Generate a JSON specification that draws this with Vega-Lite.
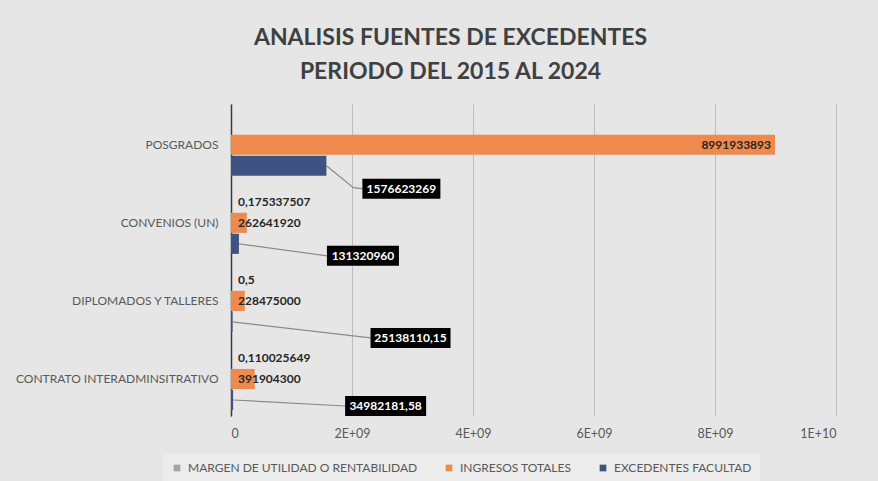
{
  "$schema": "https://vega.github.io/schema/vega-lite/v6.json",
  "width": 605,
  "height": 312,
  "autosize": {"type": "none"},
  "padding": {"left": 231, "top": 104, "right": 42, "bottom": 65},
  "background": "#e6e6e6",
  "config": {
    "font": "Lato",
    "view": {"stroke": null},
    "locale": {"number": {"decimal": ",", "thousands": ".", "grouping": [3], "currency": ["$", ""]}}
  },
  "title": {
    "text": ["ANALISIS FUENTES DE EXCEDENTES", "PERIODO DEL 2015 AL 2024"],
    "font": "Lato",
    "fontSize": 23,
    "fontWeight": "bold",
    "color": "#404040",
    "anchor": "middle",
    "dx": -83,
    "offset": 20,
    "lineHeight": 34
  },
  "data": {
    "values": [
      {"cat": "POSGRADOS", "serie": "INGRESOS TOTALES", "value": 8991933893},
      {"cat": "POSGRADOS", "serie": "EXCEDENTES FACULTAD", "value": 1576623269},
      {"cat": "CONVENIOS (UN)", "serie": "MARGEN DE UTILIDAD O RENTABILIDAD", "value": 0.175337507},
      {"cat": "CONVENIOS (UN)", "serie": "INGRESOS TOTALES", "value": 262641920},
      {"cat": "CONVENIOS (UN)", "serie": "EXCEDENTES FACULTAD", "value": 131320960},
      {"cat": "DIPLOMADOS Y TALLERES", "serie": "MARGEN DE UTILIDAD O RENTABILIDAD", "value": 0.5},
      {"cat": "DIPLOMADOS Y TALLERES", "serie": "INGRESOS TOTALES", "value": 228475000},
      {"cat": "DIPLOMADOS Y TALLERES", "serie": "EXCEDENTES FACULTAD", "value": 25138110.15},
      {"cat": "CONTRATO INTERADMINSITRATIVO", "serie": "MARGEN DE UTILIDAD O RENTABILIDAD", "value": 0.110025649},
      {"cat": "CONTRATO INTERADMINSITRATIVO", "serie": "INGRESOS TOTALES", "value": 391904300},
      {"cat": "CONTRATO INTERADMINSITRATIVO", "serie": "EXCEDENTES FACULTAD", "value": 34982181.58}
    ]
  },
  "encoding": {
    "y": {
      "field": "cat",
      "type": "nominal",
      "sort": ["POSGRADOS", "CONVENIOS (UN)", "DIPLOMADOS Y TALLERES", "CONTRATO INTERADMINSITRATIVO"],
      "scale": {"paddingInner": 0.205, "paddingOuter": 0.1, "align": 0.62},
      "axis": {
        "title": null,
        "labelFont": "Lato",
        "labelFontSize": 12,
        "labelColor": "#595959",
        "labelPadding": 13,
        "labelLimit": 300,
        "ticks": false,
        "grid": false,
        "domainColor": "#3a3a3a",
        "domainWidth": 1.5
      }
    },
    "yOffset": {
      "field": "serie",
      "type": "nominal",
      "sort": ["MARGEN DE UTILIDAD O RENTABILIDAD", "INGRESOS TOTALES", "EXCEDENTES FACULTAD"],
      "scale": {"paddingInner": 0.04}
    }
  },
  "layer": [
    {
      "mark": {"type": "bar"},
      "encoding": {
        "x": {
          "field": "value",
          "type": "quantitative",
          "scale": {"domain": [0, 10000000000], "nice": false},
          "axis": {
            "title": null,
            "values": [0, 2000000000, 4000000000, 6000000000, 8000000000, 10000000000],
            "labelExpr": "datum.value === 0 ? '0' : upper(replace(format(datum.value, '.0e'), regexp('[+]([0-9])$'), '+0$1'))",
            "grid": true,
            "gridColor": "#bdbdbd",
            "gridWidth": 1,
            "domain": false,
            "ticks": false,
            "labelPadding": 11,
            "labelFont": "Lato",
            "labelFontSize": 12.5,
            "labelColor": "#595959"
          }
        },
        "color": {
          "field": "serie",
          "type": "nominal",
          "scale": {
            "domain": ["MARGEN DE UTILIDAD O RENTABILIDAD", "INGRESOS TOTALES", "EXCEDENTES FACULTAD"],
            "range": ["#a5a5a5", "#ee8a4d", "#3f5382"]
          },
          "legend": {
            "orient": "none",
            "legendX": -68,
            "legendY": 350,
            "direction": "horizontal",
            "title": null,
            "fillColor": "#ececec",
            "padding": 8,
            "symbolType": "square",
            "symbolSize": 45,
            "symbolStrokeWidth": 0,
            "labelFont": "Lato",
            "labelFontSize": 12,
            "labelLimit": 400,
            "labelColor": "#595959",
            "labelOffset": 5,
            "columnPadding": 25
          }
        }
      }
    },
    {
      "transform": [{"filter": "datum.serie === 'INGRESOS TOTALES' && datum.value > 1000000000"}],
      "mark": {"type": "text", "align": "right", "baseline": "middle", "dx": -4, "fontWeight": "bold", "fontSize": 12, "color": "#262626"},
      "encoding": {
        "x": {"field": "value", "type": "quantitative"},
        "text": {"field": "value", "type": "quantitative", "format": ".12~r"}
      }
    },
    {
      "transform": [{"filter": "datum.serie === 'MARGEN DE UTILIDAD O RENTABILIDAD' || (datum.serie === 'INGRESOS TOTALES' && datum.value < 1000000000)"}],
      "mark": {"type": "text", "align": "left", "baseline": "middle", "dx": 7, "fontWeight": "bold", "fontSize": 12, "color": "#262626"},
      "encoding": {
        "x": {"datum": 0, "type": "quantitative"},
        "text": {"field": "value", "type": "quantitative", "format": ".12~r"}
      }
    },
    {
      "transform": [{"filter": "datum.serie === 'EXCEDENTES FACULTAD'"}],
      "mark": {
        "type": "point",
        "filled": false,
        "size": 4,
        "color": "#8a8a8a",
        "strokeWidth": 1.2,
        "opacity": 1,
        "shape": {"expr": "datum.cat === 'POSGRADOS' ? 'M0,0L27,22L36,23' : datum.cat === 'CONVENIOS (UN)' ? 'M0,0L88,12' : datum.cat === 'DIPLOMADOS Y TALLERES' ? 'M0,0L138,16' : 'M0,0L112,6'"}
      },
      "encoding": {
        "x": {"field": "value", "type": "quantitative"}
      }
    },
    {
      "transform": [{"filter": "datum.serie === 'EXCEDENTES FACULTAD'"}],
      "mark": {
        "type": "point",
        "filled": true,
        "size": 4,
        "color": "#000000",
        "strokeWidth": 0,
        "opacity": 1,
        "shape": {"expr": "datum.cat === 'POSGRADOS' ? 'M36,13L114,13L114,33L36,33Z' : datum.cat === 'CONVENIOS (UN)' ? 'M88,2L160,2L160,22L88,22Z' : datum.cat === 'DIPLOMADOS Y TALLERES' ? 'M138,6L218,6L218,26L138,26Z' : 'M112,-4L193,-4L193,16L112,16Z'"}
      },
      "encoding": {
        "x": {"field": "value", "type": "quantitative"}
      }
    },
    {
      "transform": [{"filter": "datum.serie === 'EXCEDENTES FACULTAD'"}],
      "mark": {
        "type": "text",
        "align": "center",
        "baseline": "middle",
        "fontWeight": "bold",
        "fontSize": 12,
        "color": "#ffffff",
        "dx": {"expr": "datum.cat === 'POSGRADOS' ? 75 : datum.cat === 'CONVENIOS (UN)' ? 124 : datum.cat === 'DIPLOMADOS Y TALLERES' ? 178 : 152.5"},
        "dy": {"expr": "datum.cat === 'POSGRADOS' ? 23 : datum.cat === 'CONVENIOS (UN)' ? 12 : datum.cat === 'DIPLOMADOS Y TALLERES' ? 16 : 6"}
      },
      "encoding": {
        "x": {"field": "value", "type": "quantitative"},
        "text": {"field": "value", "type": "quantitative", "format": ".12~r"}
      }
    }
  ]
}
